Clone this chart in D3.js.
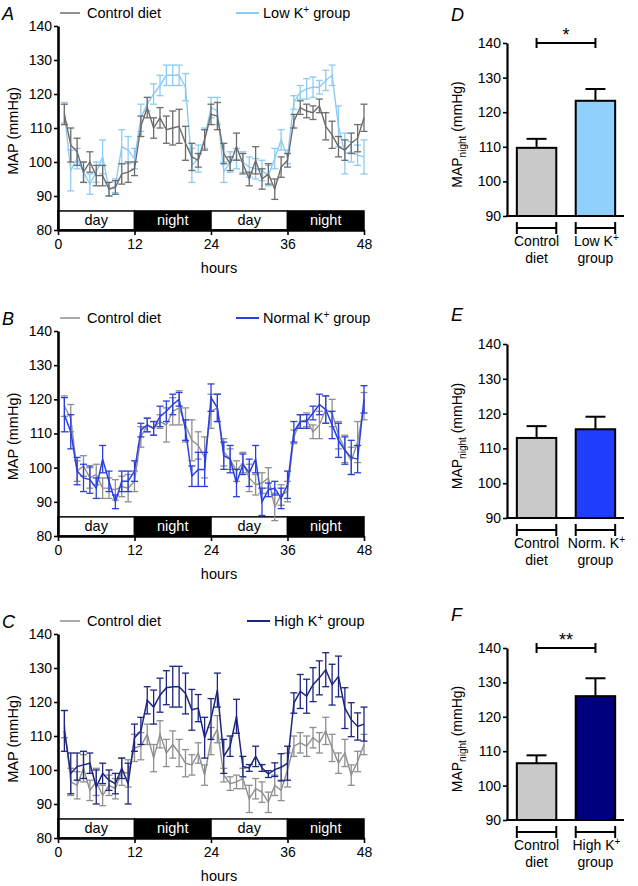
<!DOCTYPE html>
<html><head><meta charset="utf-8">
<script src="https://cdn.jsdelivr.net/npm/d3@7"></script>
<style>body{margin:0;background:#fff}svg text{font-family:"Liberation Sans",Arial,sans-serif;fill:#000}</style>
</head><body><svg id="c" width="638" height="886"></svg>
<script>
// ---------- data ----------
const hours=[1,2,3,4,5,6,7,8,9,10,11,12,13,14,15,16,17,18,19,20,21,22,23,24,25,26,27,28,29,30,31,32,33,34,35,36,37,38,39,40,41,42,43,44,45,46,47,48];
const periods=[{s:0,e:12,label:"day"},{s:12,e:24,label:"night"},{s:24,e:36,label:"day"},{s:36,e:48,label:"night"}];
const xTicks=[0,12,24,36,48];
const yTicksLine=[80,90,100,110,120,130,140];
const yTicksBar=[90,100,110,120,130,140];

const ctrlA=[114,105,103,97,100,96,96,92,92.5,96.5,97,98,110.5,116,110,113,109.5,110,110.5,105.5,101.5,100.5,106.5,114,113.5,102.5,99.5,104.5,99.5,95,100.5,95,96.5,92,98.5,100.5,112,116,115,114.5,116.5,110.5,108,104.5,103.5,105.5,107,113];
const ctrlAErr=[3,5,4,3,3,3,3,2,2,3,3,2,3,3,3,3,4,5,5,5,4,2,3,3,4,3,2,4,3,2,4,3,3,3,3,2,2,2,2,2,2,4,4,3,3,3,4,4];
const lowK=[114.5,97.5,101,97,93.5,97,101.5,92,93,104.5,103.5,101,113,117,120,122.5,125.5,125.5,125.5,122,99,101,107,116,115,97,100,101,100,98.5,98,97.5,96,101,106.5,101.5,117.5,120.5,121.5,122,122,124,125.5,110.5,102.5,103,102,101.5];
const lowKErr=[3,6,3,3,3,3,5,2,2,5,4,3,4,2,3,3,3,3,3,4,5,4,3,3,4,3,3,3,3,3,3,3,3,3,3,2,2,2,3,3,2,3,3,6,6,3,3,5];

const ctrlB=[118,114.5,99,100.5,97,98,94,94,93.5,94.5,94,96,109,112.5,111.5,113.5,112.5,116.5,117.5,112.5,108,106.5,103,116.5,117.5,104.5,102.5,99,101.5,97,95,95.5,97,88.5,92,93,109,113.5,114,110.5,112.5,117,116,109.5,105.5,102,107.5,118];
const ctrlBErr=[3,4,3,3,3,3,3,3,3,3,4,3,3,2,2,2,5,4,5,5,6,4,6,5,4,4,3,3,3,4,3,3,3,4,3,3,2,2,2,2,4,4,4,4,4,4,6,4];
const normK=[115.5,110.5,99,97,96.5,94,102.5,96,90,96,96,99,111,112.5,111.5,115,116.5,118.5,120,111,97.5,99.5,99.5,120.5,117.5,103.5,102.5,95.5,101,98.5,102.5,90,93.5,94,91,95,110.5,113.5,113.5,116,118.5,117,112.5,108,105,103,102.5,120];
const normKErr=[5,5,4,4,4,3,4,3,2,3,3,3,2,2,2,3,3,3,2,3,3,5,5,4,4,4,4,4,3,4,4,4,2,2,3,4,3,2,2,2,3,4,4,5,4,5,4,4];

const ctrlC=[113.5,96.5,95.5,100.5,94,96.5,92.5,95.5,94.5,99.5,99,106.5,107,110.5,103.5,110.5,105,107.5,105,102,101.5,105,98.5,108.5,112,98.5,96,96.5,97.5,91.5,94.5,93.5,90.5,95.5,94,100,107,108,107,109.5,108,111.5,106.5,102,105,98.5,102.5,107.5];
const ctrlCErr=[4,4,4,4,3,4,3,3,3,4,4,4,4,3,4,4,4,4,4,4,3,3,3,4,4,2,2,2,3,4,3,3,3,3,3,5,3,3,3,3,3,4,4,3,4,3,3,3];
const highK=[111.5,99,101,101.5,102,95,99,97,96,100.5,96,109.5,111.5,120.5,118.5,122,124.2,124.5,124.5,122.5,117.7,118.2,109.5,115,123.5,104,107,115.8,101,100.6,104,100.6,98.8,100.1,100.8,102,119.7,123.1,121.7,125.1,127.1,129.5,125.1,127.5,118.2,114.8,112.8,113.5];
const highKErr=[6,6,4,4,3,5,3,3,3,3,6,4,4,4,5,5,5,6,6,6,6,4,6,6,5,5,3,5,3,1,3,1,1,2,4,5,3,5,5,5,5,5,6,6,6,5,4,5];

const barCatsD=[["Control","diet"],["Low K","group"]];
const barCatsE=[["Control","diet"],["Norm. K","group"]];
const barCatsF=[["Control","diet"],["High K","group"]];
const barD=[109.7,123.3], barDErr=[2.6,3.4];
const barE=[113.0,115.5], barEErr=[3.4,3.6];
const barF=[106.5,126.0], barFErr=[2.3,5.2];

// ---------- drawing ----------
const svg=d3.select("#c");
const FONT=14;

function lineChart(o){
  const g=svg.append("g");
  const x=d3.scaleLinear().domain([0,48]).range([58,364]);
  const y=d3.scaleLinear().domain([80,140]).range([o.bottom,o.top]);
  // panel letter
  g.append("text").attr("x",2).attr("y",o.top-6).attr("font-size",18).attr("font-style","italic").text(o.letter);
  // legend
  const ly=o.top-13;
  g.append("line").attr("x1",60).attr("x2",80).attr("y1",ly).attr("y2",ly).attr("stroke",o.ctrlColor).attr("stroke-width",1.5);
  g.append("text").attr("x",87).attr("y",ly+5).attr("font-size",14.5).text("Control diet");
  g.append("line").attr("x1",o.legX).attr("x2",o.legX+23).attr("y1",ly).attr("y2",ly).attr("stroke",o.trtColor).attr("stroke-width",2);
  const t=g.append("text").attr("x",o.legX+27).attr("y",ly+5).attr("font-size",14.5);
  t.append("tspan").text(o.trtName);
  t.append("tspan").attr("dy",-5).attr("font-size",10).text("+");
  t.append("tspan").attr("dy",5).text(" group");
  // day/night band
  const band=g.append("g");
  periods.forEach(p=>{
    band.append("rect").attr("x",x(p.s)).attr("y",y(85.6)).attr("width",x(p.e)-x(p.s)).attr("height",y(80)-y(85.6))
      .attr("fill",p.label==="night"?"#000":"#fff").attr("stroke","#000").attr("stroke-width",1.5);
    band.append("text").attr("x",(x(p.s)+x(p.e))/2).attr("y",y(82.8)+5).attr("text-anchor","middle").attr("font-size",14.5)
      .style("fill",p.label==="night"?"#fff":"#000").text(p.label);
  });
  // series
  function series(vals,errs,color,w){
    const s=g.append("g");
    hours.forEach((h,i)=>{
      const cx=x(h);
      s.append("line").attr("x1",cx).attr("x2",cx).attr("y1",y(vals[i]-errs[i])).attr("y2",y(vals[i]+errs[i])).attr("stroke",color).attr("stroke-width",1.3);
      [vals[i]-errs[i],vals[i]+errs[i]].forEach(v=>{
        s.append("line").attr("x1",cx-3.5).attr("x2",cx+3.5).attr("y1",y(v)).attr("y2",y(v)).attr("stroke",color).attr("stroke-width",1.3);
      });
    });
    s.append("path").datum(vals).attr("fill","none").attr("stroke",color).attr("stroke-width",w)
      .attr("d",d3.line().x((d,i)=>x(hours[i])).y(d=>y(d)));
  }
  if(o.trtFirst){series(o.trt,o.trtErr,o.trtColor,1.4);series(o.ctrl,o.ctrlErr,o.ctrlColor,1.4);}
  else{series(o.ctrl,o.ctrlErr,o.ctrlColor,1.4);series(o.trt,o.trtErr,o.trtColor,1.5);}
  // axes
  const ya=g.append("g").attr("transform","translate(58,0)").call(d3.axisLeft(y).tickValues(yTicksLine).tickSize(4).tickSizeOuter(0));
  const xa=g.append("g").attr("transform",`translate(0,${o.bottom})`).call(d3.axisBottom(x).tickValues(xTicks).tickSize(5).tickSizeOuter(0));
  [ya,xa].forEach(a=>{a.select(".domain").attr("stroke-width",2.6);a.selectAll(".tick line").attr("stroke-width",1.6);
    a.selectAll("text").attr("font-size",FONT).attr("font-family","Liberation Sans, Arial, sans-serif");});
  ya.selectAll("text").attr("x",-6);
  xa.selectAll("text").attr("y",9);
  g.append("text").attr("x",219).attr("y",o.bottom+43).attr("text-anchor","middle").attr("font-size",14.5).text("hours");
  g.append("text").attr("transform",`translate(18,${(o.top+o.bottom)/2+3}) rotate(-90)`).attr("text-anchor","middle").attr("font-size",14.5).text("MAP (mmHg)");
}

function barChart(o){
  const g=svg.append("g");
  const x=d3.scaleBand().domain([0,1]).range([508,624]).paddingInner(0.33).paddingOuter(0.15);
  const y=d3.scaleLinear().domain([90,140]).range([o.bottom,o.top]);
  g.append("text").attr("x",451).attr("y",o.letterY).attr("font-size",18).attr("font-style","italic").text(o.letter);
  [0,1].forEach(i=>{
    const cx=x(i)+x.bandwidth()/2;
    g.append("line").attr("x1",cx).attr("x2",cx).attr("y1",y(o.vals[i])).attr("y2",y(o.vals[i]+o.errs[i])).attr("stroke","#000").attr("stroke-width",2);
    g.append("line").attr("x1",cx-10).attr("x2",cx+10).attr("y1",y(o.vals[i]+o.errs[i])).attr("y2",y(o.vals[i]+o.errs[i])).attr("stroke","#000").attr("stroke-width",2);
    g.append("rect").attr("x",x(i)).attr("width",x.bandwidth()).attr("y",y(o.vals[i])).attr("height",y(90)-y(o.vals[i]))
      .attr("fill",o.colors[i]).attr("stroke","#000").attr("stroke-width",2);
    // category bracket
    const by=o.bottom+12;
    g.append("line").attr("x1",x(i)).attr("x2",x(i)+x.bandwidth()).attr("y1",by).attr("y2",by).attr("stroke","#000").attr("stroke-width",2);
    [x(i),x(i)+x.bandwidth()].forEach(xx=>g.append("line").attr("x1",xx).attr("x2",xx).attr("y1",by-6).attr("y2",by+6).attr("stroke","#000").attr("stroke-width",2));
    const lab=o.cats[i];
    const t1=g.append("text").attr("x",cx+(i===1?1:0)).attr("y",o.bottom+30).attr("text-anchor","middle").attr("font-size",14);
    t1.append("tspan").text(lab[0]);
    if(i===1) t1.append("tspan").attr("dy",-5).attr("font-size",10).text("+");
    g.append("text").attr("x",cx).attr("y",o.bottom+47).attr("text-anchor","middle").attr("font-size",14).text(lab[1]);
  });
  const ya=g.append("g").attr("transform","translate(507,0)").call(d3.axisLeft(y).tickValues(yTicksBar).tickSize(4).tickSizeOuter(0));
  ya.select(".domain").attr("stroke-width",2.2);
  ya.selectAll(".tick line").attr("stroke-width",1.6);
  ya.selectAll("text").attr("font-size",FONT).attr("x",-6).attr("font-family","Liberation Sans, Arial, sans-serif");
  g.append("line").attr("x1",506).attr("x2",624).attr("y1",o.bottom).attr("y2",o.bottom).attr("stroke","#000").attr("stroke-width",2.2);
  const yl=g.append("text").attr("transform",`translate(462,${(o.top+o.bottom)/2+5}) rotate(-90)`).attr("text-anchor","middle").attr("font-size",14);
  yl.append("tspan").text("MAP");
  yl.append("tspan").attr("dy",4).attr("font-size",10).text("night");
  yl.append("tspan").attr("dy",-4).text(" (mmHg)");
  if(o.sig){
    const c0=x(0)+x.bandwidth()/2,c1=x(1)+x.bandwidth()/2,sy=y(140);
    g.append("line").attr("x1",c0).attr("x2",c1).attr("y1",sy).attr("y2",sy).attr("stroke","#000").attr("stroke-width",2);
    [c0,c1].forEach(xx=>g.append("line").attr("x1",xx).attr("x2",xx).attr("y1",sy-5).attr("y2",sy+5).attr("stroke","#000").attr("stroke-width",2));
    g.append("text").attr("x",(c0+c1)/2).attr("y",sy-2).attr("text-anchor","middle").attr("font-size",18).text(o.sig);
  }
}

lineChart({letter:"A",top:26,bottom:230,ctrl:ctrlA,ctrlErr:ctrlAErr,trt:lowK,trtErr:lowKErr,ctrlColor:"#6c6c6c",trtColor:"#8ecbf2",trtName:"Low K",legX:236,trtFirst:true});
lineChart({letter:"B",top:331,bottom:536,ctrl:ctrlB,ctrlErr:ctrlBErr,trt:normK,trtErr:normKErr,ctrlColor:"#8f8f8f",trtColor:"#2a3fe0",trtName:"Normal K",legX:236});
lineChart({letter:"C",top:634,bottom:838,ctrl:ctrlC,ctrlErr:ctrlCErr,trt:highK,trtErr:highKErr,ctrlColor:"#8f8f8f",trtColor:"#1c2580",trtName:"High K",legX:247});

barChart({letter:"D",letterY:21,top:43,bottom:216,vals:barD,errs:barDErr,cats:barCatsD,colors:["#c9c9c9","#8fd1fc"],sig:"*"});
barChart({letter:"E",letterY:321,top:344,bottom:518,vals:barE,errs:barEErr,cats:barCatsE,colors:["#c9c9c9","#1f3fff"]});
barChart({letter:"F",letterY:621,top:648,bottom:820,vals:barF,errs:barFErr,cats:barCatsF,colors:["#c9c9c9","#00007f"],sig:"**"});
</script></body></html>
